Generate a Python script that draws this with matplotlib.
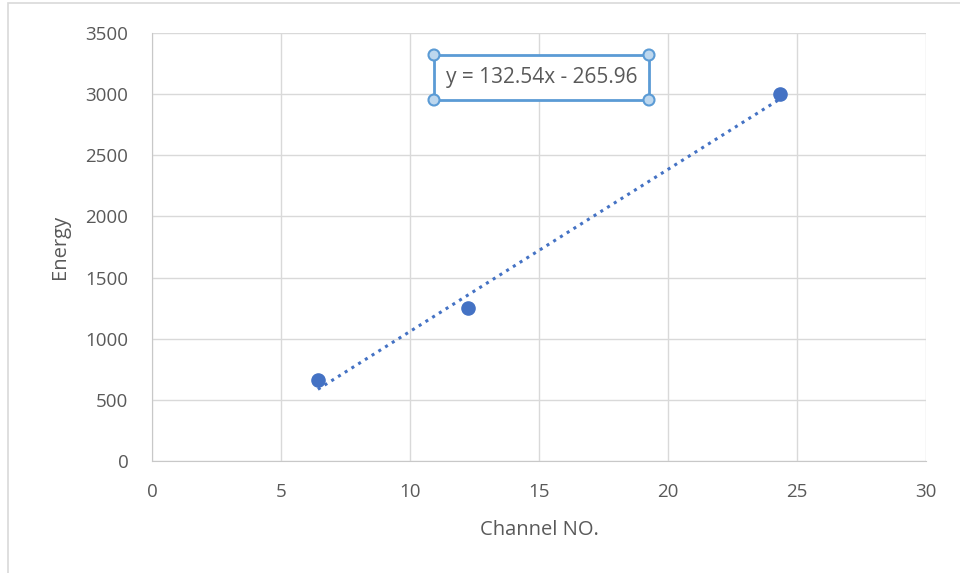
import numpy as np
import matplotlib.pyplot as plt
from matplotlib.patches import Rectangle, Circle

# channel number vs. known gamma energy
channel = [6.43, 12.25, 24.34]
energy = [662, 1250, 3000]
slope, intercept = 132.54, -265.96

plt.rcParams['font.family'] = ['Open Sans', 'DejaVu Sans']
grey = '#595959'
blue = '#4472C4'

fig = plt.figure(figsize=(9.6, 5.73), dpi=100)
ax = fig.add_axes([152/960, 1 - 461/573, (926-152)/960, (461-33)/573])

# outer chart border
fig.patches.append(Rectangle((8/960, -0.1), 1.2, (1 - 3/573) + 0.1,
                             transform=fig.transFigure, fill=False,
                             edgecolor='#d9d9d9', linewidth=1.2))

ax.scatter(channel, energy, s=90, color=blue, zorder=3)
xt = np.linspace(min(channel), max(channel), 50)
ax.plot(xt, slope*xt + intercept, linestyle=(0, (1, 1.6)), color=blue,
        linewidth=2.2, zorder=2)

ax.set_xlim(0, 30)
ax.set_ylim(0, 3500)
ax.set_xticks(range(0, 31, 5))
ax.set_yticks(range(0, 3501, 500))
ax.grid(color='#d9d9d9', linewidth=1)
ax.set_axisbelow(True)
for s in ['top', 'right']:
    ax.spines[s].set_visible(False)
for s in ['left', 'bottom']:
    ax.spines[s].set_color('#c8c8c8')
ax.tick_params(length=0, colors=grey, labelsize=13.5)
ax.tick_params(axis='y', pad=17)
ax.tick_params(axis='x', pad=16)
ax.set_xlabel('Channel NO.', color=grey, fontsize=14.5)
ax.set_ylabel('Energy', color=grey, fontsize=14.5)
ax.xaxis.set_label_coords(0.5, -0.161)
ax.xaxis.label.set_va('center')
ax.yaxis.set_label_coords(-0.119, 0.5)
ax.yaxis.label.set_va('center')

# trendline equation label with selection handles
eq = f'y = {slope:.2f}x - {abs(intercept):.2f}'
x0, y0, x1, y1 = 434/960, 1 - 100/573, 649/960, 1 - 55/573
fig.patches.append(Rectangle((x0, y0), x1 - x0, y1 - y0, transform=fig.transFigure,
                             fill=True, facecolor='white', edgecolor='#5B9BD5',
                             linewidth=2, zorder=5))
fig.text((x0 + x1)/2, (y0 + y1)/2, eq, ha='center', va='center',
         color=grey, fontsize=15, zorder=6)
for cx in (x0, x1):
    for cy in (y0, y1):
        fig.patches.append(Circle((cx*960, cy*573), 5.5, transform=None,
                                  facecolor='#BDD7EE', edgecolor='#5B9BD5',
                                  linewidth=1.5, zorder=7))

fig.savefig('out.png', dpi=100)
